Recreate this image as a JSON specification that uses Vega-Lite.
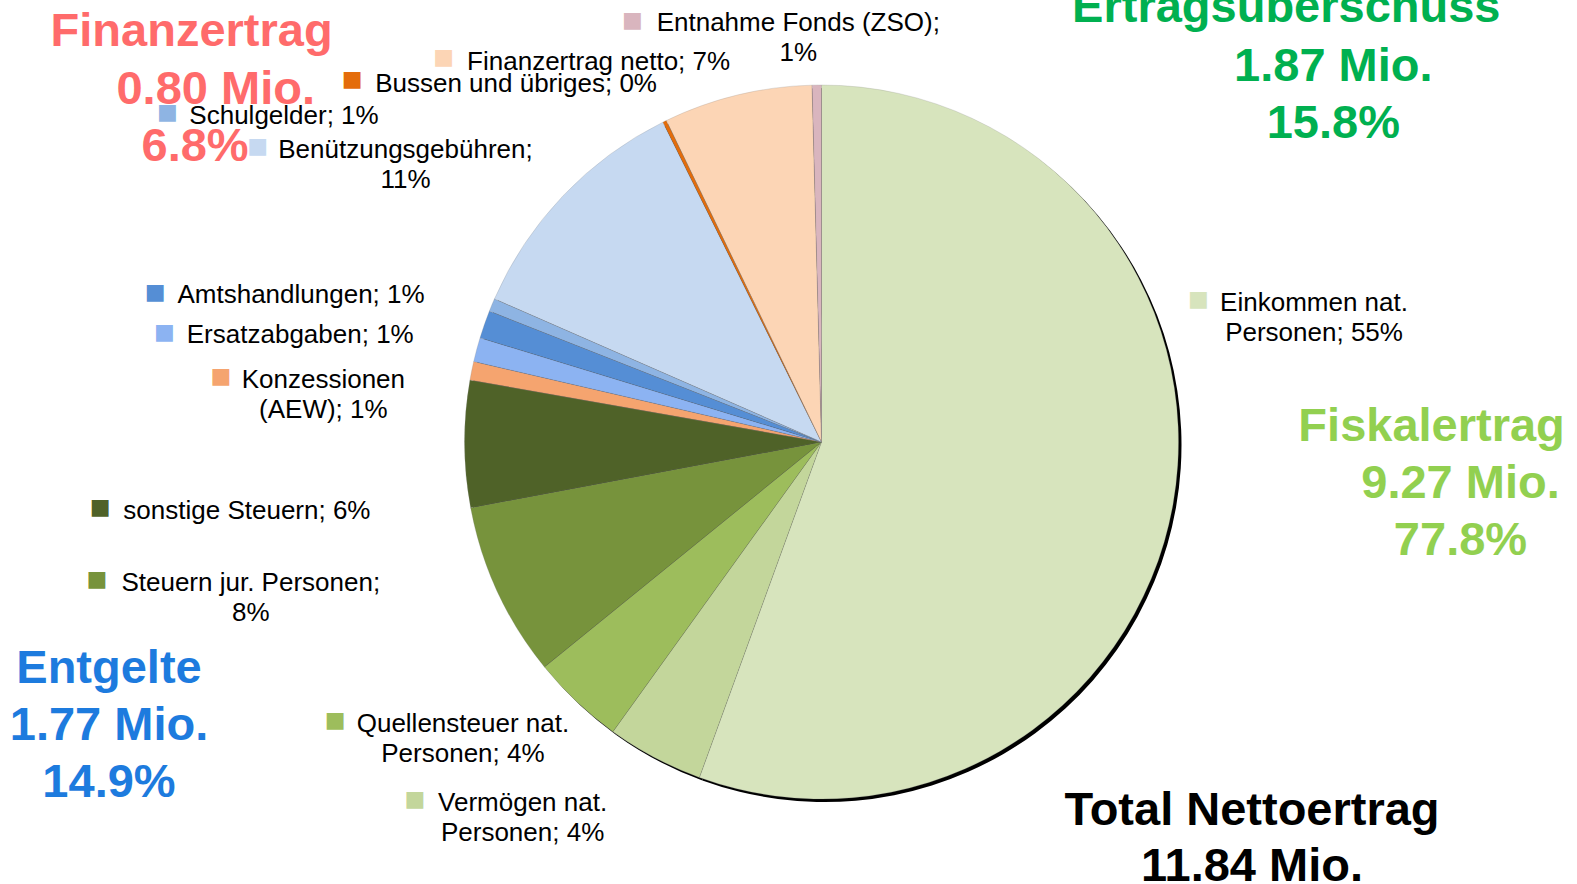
{
  "$schema": "https://vega.github.io/schema/vega-lite/v6.json",
  "width": 1511,
  "height": 884,
  "autosize": {"type": "none"},
  "padding": {"left": 66, "right": 0, "top": 0, "bottom": 0},
  "background": "#ffffff",
  "config": {"view": {"stroke": null}},
  "datasets": {
    "slices": [
      {"idx": 1, "cat": "Einkommen nat. Personen", "value": 6.60, "label": "Einkommen nat.\nPersonen; 55%"},
      {"idx": 2, "cat": "Vermögen nat. Personen", "value": 0.52, "label": "Vermögen nat.\nPersonen; 4%"},
      {"idx": 3, "cat": "Quellensteuer nat. Personen", "value": 0.50, "label": "Quellensteuer nat.\nPersonen; 4%"},
      {"idx": 4, "cat": "Steuern jur. Personen", "value": 0.94, "label": "Steuern jur. Personen;\n8%"},
      {"idx": 5, "cat": "sonstige Steuern", "value": 0.68, "label": "sonstige Steuern; 6%"},
      {"idx": 6, "cat": "Konzessionen (AEW)", "value": 0.10, "label": "Konzessionen\n(AEW); 1%"},
      {"idx": 7, "cat": "Ersatzabgaben", "value": 0.13, "label": "Ersatzabgaben; 1%"},
      {"idx": 8, "cat": "Amtshandlungen", "value": 0.15, "label": "Amtshandlungen; 1%"},
      {"idx": 9, "cat": "Schulgelder", "value": 0.07, "label": "Schulgelder; 1%"},
      {"idx": 10, "cat": "Benützungsgebühren", "value": 1.32, "label": "Benützungsgebühren;\n11%"},
      {"idx": 11, "cat": "Bussen und übriges", "value": 0.02, "label": "Bussen und übriges; 0%"},
      {"idx": 12, "cat": "Finanzertrag netto", "value": 0.80, "label": "Finanzertrag netto; 7%"},
      {"idx": 13, "cat": "Entnahme Fonds (ZSO)", "value": 0.05, "label": "Entnahme Fonds (ZSO);\n1%"}
    ],
    "notes": [
      {"key": "fin1", "text": "Finanzertrag"},
      {"key": "fin2", "text": "0.80 Mio."},
      {"key": "fin3", "text": "6.8%"},
      {"key": "ert1", "text": "Ertragsüberschuss"},
      {"key": "ert23", "text": "1.87 Mio.\n15.8%"},
      {"key": "fis1", "text": "Fiskalertrag"},
      {"key": "fis23", "text": "9.27 Mio.\n77.8%"},
      {"key": "ent", "text": "Entgelte\n1.77 Mio.\n14.9%"},
      {"key": "tot", "text": "Total Nettoertrag\n11.84 Mio."}
    ]
  },
  "layer": [
    {
      "data": {"name": "slices"},
      "encoding": {
        "theta": {"field": "value", "type": "quantitative", "stack": true},
        "order": {"field": "idx", "type": "quantitative"}
      },
      "layer": [
        {"mark": {"type": "arc", "outerRadius": 357, "color": "#000000", "xOffset": 3, "yOffset": 3}},
        {
          "mark": {"type": "arc", "outerRadius": 357, "stroke": "#808080", "strokeWidth": 0.5, "strokeOpacity": 0.45},
          "encoding": {
            "color": {
              "field": "cat", "type": "nominal", "legend": null,
              "scale": {
                "domain": ["Einkommen nat. Personen", "Vermögen nat. Personen", "Quellensteuer nat. Personen", "Steuern jur. Personen", "sonstige Steuern", "Konzessionen (AEW)", "Ersatzabgaben", "Amtshandlungen", "Schulgelder", "Benützungsgebühren", "Bussen und übriges", "Finanzertrag netto", "Entnahme Fonds (ZSO)"],
                "range": ["#D7E4BD", "#C3D69B", "#9DBD5C", "#77933C", "#4F6228", "#F5A46F", "#8CB3F2", "#558ED5", "#8EB4E3", "#C6D9F1", "#E46C0A", "#FCD5B5", "#D9B5BE"]
              }
            }
          }
        },
        {"mark": {"type": "text", "radius": 380, "dx": -18.2, "dy": -30.8, "align": "center", "baseline": "alphabetic", "font": "Liberation Sans", "fontSize": 26, "lineHeight": 30, "lineBreak": "\n", "color": "#000000"},
         "encoding": {"text": {"condition": {"test": "datum.idx === 13", "field": "label"}, "value": ""}}},
        {"mark": {"type": "text", "radius": 380, "dx": -133.3, "dy": -3.2, "align": "center", "baseline": "alphabetic", "font": "Liberation Sans", "fontSize": 26, "lineHeight": 30, "lineBreak": "\n", "color": "#000000"},
         "encoding": {"text": {"condition": {"test": "datum.idx === 12", "field": "label"}, "value": ""}}},
        {"mark": {"type": "text", "radius": 380, "dx": -138.5, "dy": -9.0, "align": "center", "baseline": "alphabetic", "font": "Liberation Sans", "fontSize": 26, "lineHeight": 30, "lineBreak": "\n", "color": "#000000"},
         "encoding": {"text": {"condition": {"test": "datum.idx === 11", "field": "label"}, "value": ""}}},
        {"mark": {"type": "text", "radius": 380, "dx": -141.0, "dy": -21.6, "align": "center", "baseline": "alphabetic", "font": "Liberation Sans", "fontSize": 26, "lineHeight": 30, "lineBreak": "\n", "color": "#000000"},
         "encoding": {"text": {"condition": {"test": "datum.idx === 10", "field": "label"}, "value": ""}}},
        {"mark": {"type": "text", "radius": 380, "dx": -186.6, "dy": -172.3, "align": "center", "baseline": "alphabetic", "font": "Liberation Sans", "fontSize": 26, "lineHeight": 30, "lineBreak": "\n", "color": "#000000"},
         "encoding": {"text": {"condition": {"test": "datum.idx === 9", "field": "label"}, "value": ""}}},
        {"mark": {"type": "text", "radius": 380, "dx": -161.7, "dy": -13.7, "align": "center", "baseline": "alphabetic", "font": "Liberation Sans", "fontSize": 26, "lineHeight": 30, "lineBreak": "\n", "color": "#000000"},
         "encoding": {"text": {"condition": {"test": "datum.idx === 8", "field": "label"}, "value": ""}}},
        {"mark": {"type": "text", "radius": 380, "dx": -154.2, "dy": -0.8, "align": "center", "baseline": "alphabetic", "font": "Liberation Sans", "fontSize": 26, "lineHeight": 30, "lineBreak": "\n", "color": "#000000"},
         "encoding": {"text": {"condition": {"test": "datum.idx === 7", "field": "label"}, "value": ""}}},
        {"mark": {"type": "text", "radius": 380, "dx": -125.8, "dy": 22.0, "align": "center", "baseline": "alphabetic", "font": "Liberation Sans", "fontSize": 26, "lineHeight": 30, "lineBreak": "\n", "color": "#000000"},
         "encoding": {"text": {"condition": {"test": "datum.idx === 6", "field": "label"}, "value": ""}}},
        {"mark": {"type": "text", "radius": 380, "dx": -194.6, "dy": 74.9, "align": "center", "baseline": "alphabetic", "font": "Liberation Sans", "fontSize": 26, "lineHeight": 30, "lineBreak": "\n", "color": "#000000"},
         "encoding": {"text": {"condition": {"test": "datum.idx === 5", "field": "label"}, "value": ""}}},
        {"mark": {"type": "text", "radius": 380, "dx": -225.9, "dy": -10.7, "align": "center", "baseline": "alphabetic", "font": "Liberation Sans", "fontSize": 26, "lineHeight": 30, "lineBreak": "\n", "color": "#000000"},
         "encoding": {"text": {"condition": {"test": "datum.idx === 4", "field": "label"}, "value": ""}}},
        {"mark": {"type": "text", "radius": 380, "dx": -97.8, "dy": 13.5, "align": "center", "baseline": "alphabetic", "font": "Liberation Sans", "fontSize": 26, "lineHeight": 30, "lineBreak": "\n", "color": "#000000"},
         "encoding": {"text": {"condition": {"test": "datum.idx === 3", "field": "label"}, "value": ""}}},
        {"mark": {"type": "text", "radius": 380, "dx": -121.2, "dy": 32.8, "align": "center", "baseline": "alphabetic", "font": "Liberation Sans", "fontSize": 26, "lineHeight": 30, "lineBreak": "\n", "color": "#000000"},
         "encoding": {"text": {"condition": {"test": "datum.idx === 2", "field": "label"}, "value": ""}}},
        {"mark": {"type": "text", "radius": 380, "dx": 118.3, "dy": -197.2, "align": "center", "baseline": "alphabetic", "font": "Liberation Sans", "fontSize": 26, "lineHeight": 30, "lineBreak": "\n", "color": "#000000"},
         "encoding": {"text": {"condition": {"test": "datum.idx === 1", "field": "label"}, "value": ""}}},

        {"mark": {"type": "text", "radius": 380, "dx": -184.1, "dy": -41.9, "align": "center", "baseline": "middle", "font": "DejaVu Sans", "fontSize": 22},
         "encoding": {"color": {"field": "cat", "type": "nominal", "legend": null}, "text": {"condition": {"test": "datum.idx === 13", "value": "■"}, "value": ""}}},
        {"mark": {"type": "text", "radius": 380, "dx": -288.2, "dy": -15.3, "align": "center", "baseline": "middle", "font": "DejaVu Sans", "fontSize": 22},
         "encoding": {"color": {"field": "cat", "type": "nominal", "legend": null}, "text": {"condition": {"test": "datum.idx === 12", "value": "■"}, "value": ""}}},
        {"mark": {"type": "text", "radius": 380, "dx": -302.4, "dy": -22.0, "align": "center", "baseline": "middle", "font": "DejaVu Sans", "fontSize": 22},
         "encoding": {"color": {"field": "cat", "type": "nominal", "legend": null}, "text": {"condition": {"test": "datum.idx === 11", "value": "■"}, "value": ""}}},
        {"mark": {"type": "text", "radius": 380, "dx": -288.8, "dy": -33.7, "align": "center", "baseline": "middle", "font": "DejaVu Sans", "fontSize": 22},
         "encoding": {"color": {"field": "cat", "type": "nominal", "legend": null}, "text": {"condition": {"test": "datum.idx === 10", "value": "■"}, "value": ""}}},
        {"mark": {"type": "text", "radius": 380, "dx": -303.2, "dy": -184.4, "align": "center", "baseline": "middle", "font": "DejaVu Sans", "fontSize": 22},
         "encoding": {"color": {"field": "cat", "type": "nominal", "legend": null}, "text": {"condition": {"test": "datum.idx === 9", "value": "■"}, "value": ""}}},
        {"mark": {"type": "text", "radius": 380, "dx": -307.5, "dy": -24.7, "align": "center", "baseline": "middle", "font": "DejaVu Sans", "fontSize": 22},
         "encoding": {"color": {"field": "cat", "type": "nominal", "legend": null}, "text": {"condition": {"test": "datum.idx === 8", "value": "■"}, "value": ""}}},
        {"mark": {"type": "text", "radius": 380, "dx": -290.0, "dy": -11.8, "align": "center", "baseline": "middle", "font": "DejaVu Sans", "fontSize": 22},
         "encoding": {"color": {"field": "cat", "type": "nominal", "legend": null}, "text": {"condition": {"test": "datum.idx === 7", "value": "■"}, "value": ""}}},
        {"mark": {"type": "text", "radius": 380, "dx": -228.3, "dy": 9.9, "align": "center", "baseline": "middle", "font": "DejaVu Sans", "fontSize": 22},
         "encoding": {"color": {"field": "cat", "type": "nominal", "legend": null}, "text": {"condition": {"test": "datum.idx === 6", "value": "■"}, "value": ""}}},
        {"mark": {"type": "text", "radius": 380, "dx": -341.4, "dy": 62.9, "align": "center", "baseline": "middle", "font": "DejaVu Sans", "fontSize": 22},
         "encoding": {"color": {"field": "cat", "type": "nominal", "legend": null}, "text": {"condition": {"test": "datum.idx === 5", "value": "■"}, "value": ""}}},
        {"mark": {"type": "text", "radius": 380, "dx": -379.7, "dy": -22.7, "align": "center", "baseline": "middle", "font": "DejaVu Sans", "fontSize": 22},
         "encoding": {"color": {"field": "cat", "type": "nominal", "legend": null}, "text": {"condition": {"test": "datum.idx === 4", "value": "■"}, "value": ""}}},
        {"mark": {"type": "text", "radius": 380, "dx": -225.5, "dy": 1.5, "align": "center", "baseline": "middle", "font": "DejaVu Sans", "fontSize": 22},
         "encoding": {"color": {"field": "cat", "type": "nominal", "legend": null}, "text": {"condition": {"test": "datum.idx === 3", "value": "■"}, "value": ""}}},
        {"mark": {"type": "text", "radius": 380, "dx": -228.8, "dy": 20.8, "align": "center", "baseline": "middle", "font": "DejaVu Sans", "fontSize": 22},
         "encoding": {"color": {"field": "cat", "type": "nominal", "legend": null}, "text": {"condition": {"test": "datum.idx === 2", "value": "■"}, "value": ""}}},
        {"mark": {"type": "text", "radius": 380, "dx": 2.6, "dy": -209.3, "align": "center", "baseline": "middle", "font": "DejaVu Sans", "fontSize": 22},
         "encoding": {"color": {"field": "cat", "type": "nominal", "legend": null}, "text": {"condition": {"test": "datum.idx === 1", "value": "■"}, "value": ""}}}
      ]
    },
    {"data": {"name": "notes"}, "transform": [{"filter": "datum.key === 'fin1'"}],
     "mark": {"type": "text", "x": 125.6, "y": 46.3, "align": "center", "baseline": "alphabetic", "font": "Liberation Sans", "fontWeight": "bold", "fontSize": 47, "lineHeight": 57, "lineBreak": "\n", "color": "#FF6B6B"},
     "encoding": {"text": {"field": "text"}}},
    {"data": {"name": "notes"}, "transform": [{"filter": "datum.key === 'fin2'"}],
     "mark": {"type": "text", "x": 149.7, "y": 103.6, "align": "center", "baseline": "alphabetic", "font": "Liberation Sans", "fontWeight": "bold", "fontSize": 47, "lineHeight": 57, "lineBreak": "\n", "color": "#FF6B6B"},
     "encoding": {"text": {"field": "text"}}},
    {"data": {"name": "notes"}, "transform": [{"filter": "datum.key === 'fin3'"}],
     "mark": {"type": "text", "x": 129.1, "y": 160.9, "align": "center", "baseline": "alphabetic", "font": "Liberation Sans", "fontWeight": "bold", "fontSize": 47, "lineHeight": 57, "lineBreak": "\n", "color": "#FF6B6B"},
     "encoding": {"text": {"field": "text"}}},
    {"data": {"name": "notes"}, "transform": [{"filter": "datum.key === 'ert1'"}],
     "mark": {"type": "text", "x": 1220.3, "y": 22.1, "align": "center", "baseline": "alphabetic", "font": "Liberation Sans", "fontWeight": "bold", "fontSize": 47, "lineHeight": 57, "lineBreak": "\n", "color": "#00B050"},
     "encoding": {"text": {"field": "text"}}},
    {"data": {"name": "notes"}, "transform": [{"filter": "datum.key === 'ert23'"}],
     "mark": {"type": "text", "x": 1267.3, "y": 80.5, "align": "center", "baseline": "alphabetic", "font": "Liberation Sans", "fontWeight": "bold", "fontSize": 47, "lineHeight": 57, "lineBreak": "\n", "color": "#00B050"},
     "encoding": {"text": {"field": "text"}}},
    {"data": {"name": "notes"}, "transform": [{"filter": "datum.key === 'fis1'"}],
     "mark": {"type": "text", "x": 1365.6, "y": 440.5, "align": "center", "baseline": "alphabetic", "font": "Liberation Sans", "fontWeight": "bold", "fontSize": 47, "lineHeight": 57, "lineBreak": "\n", "color": "#92D050"},
     "encoding": {"text": {"field": "text"}}},
    {"data": {"name": "notes"}, "transform": [{"filter": "datum.key === 'fis23'"}],
     "mark": {"type": "text", "x": 1394.5, "y": 497.8, "align": "center", "baseline": "alphabetic", "font": "Liberation Sans", "fontWeight": "bold", "fontSize": 47, "lineHeight": 57, "lineBreak": "\n", "color": "#92D050"},
     "encoding": {"text": {"field": "text"}}},
    {"data": {"name": "notes"}, "transform": [{"filter": "datum.key === 'ent'"}],
     "mark": {"type": "text", "x": 43, "y": 682.9, "align": "center", "baseline": "alphabetic", "font": "Liberation Sans", "fontWeight": "bold", "fontSize": 47, "lineHeight": 57, "lineBreak": "\n", "color": "#1D7BDE"},
     "encoding": {"text": {"field": "text"}}},
    {"data": {"name": "notes"}, "transform": [{"filter": "datum.key === 'tot'"}],
     "mark": {"type": "text", "x": 1186, "y": 824.7, "align": "center", "baseline": "alphabetic", "font": "Liberation Sans", "fontWeight": "bold", "fontSize": 47, "lineHeight": 56, "lineBreak": "\n", "color": "#000000"},
     "encoding": {"text": {"field": "text"}}}
  ]
}
